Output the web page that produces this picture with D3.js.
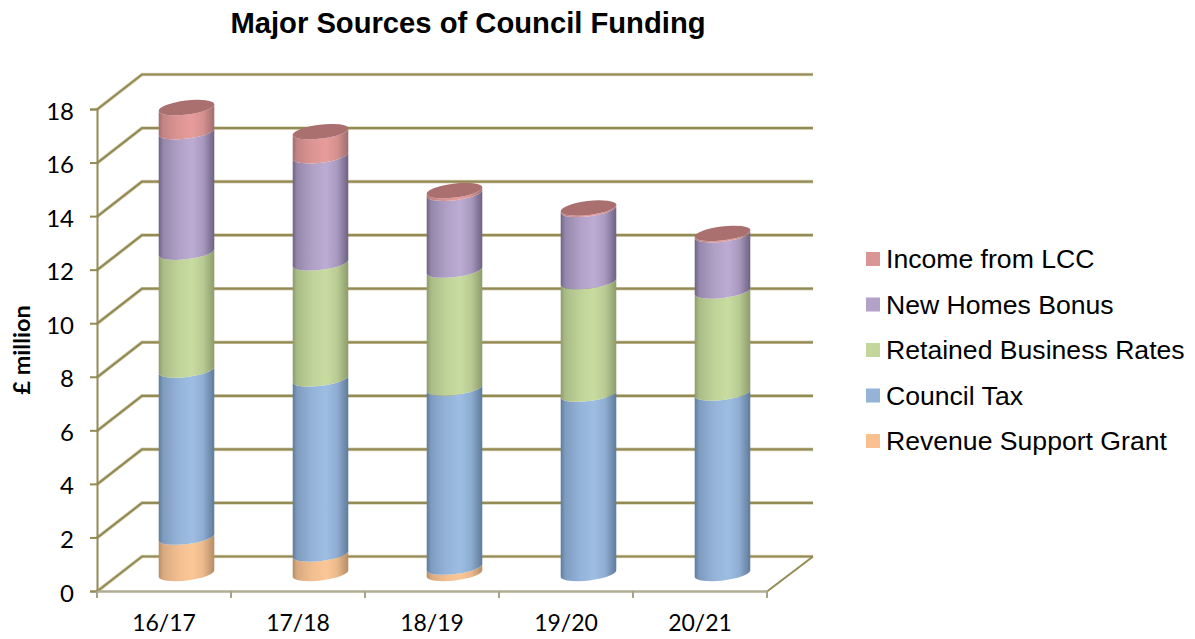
<!DOCTYPE html>
<html>
<head>
<meta charset="utf-8">
<script src="https://cdn.jsdelivr.net/npm/d3@7/dist/d3.min.js"></script>
<style>
html,body{margin:0;padding:0;background:#fff;}
svg{display:block;}
.sans{font-family:"Liberation Sans",Arial,sans-serif;}
.tick text{font-family:Lato,sans-serif;fill:#000;}
</style>
</head>
<body>
<svg id="chart" width="1195" height="639"></svg>
<script>
const years = ["16/17","17/18","18/19","19/20","20/21"];
const revenueSupportGrant = [1.36,0.73,0.24,0,0];
const councilTax = [6.24,6.54,6.69,6.7,6.74];
const retainedBusinessRates = [4.4,4.33,4.4,4.2,3.81];
const newHomesBonus = [4.5,4.0,2.87,2.7,2.1];
const incomeFromLCC = [0.9,0.9,0.1,0.05,0.05];
const yTicks = [0,2,4,6,8,10,12,14,16,18];

const seriesNames = ["Revenue Support Grant","Council Tax","Retained Business Rates","New Homes Bonus","Income from LCC"];
const seriesValues = [revenueSupportGrant,councilTax,retainedBusinessRates,newHomesBonus,incomeFromLCC];
const fills = [
  {edge:"#b58d66",mid:"#fcc797",swatch:"#fac090"},
  {edge:"#5f7b9b",mid:"#9dbde3",swatch:"#95b3d7"},
  {edge:"#8c9c6c",mid:"#c8dba0",swatch:"#c3d69b"},
  {edge:"#6e6284",mid:"#bcabd2",swatch:"#b3a2c7"},
  {edge:"#a06e6e",mid:"#e69c9a",swatch:"#d99694"}
];
const gridColor = "#948a54";

// Oblique projection of the 3-D plot box: the back wall sits up and to the right
const depthX = 45, depthY = 35;
const plotLeft = 97, plotRight = 767, plotBottom = 591, plotTop = 109;
const x = d3.scaleBand().domain(years).range([plotLeft,plotRight]);
const y = d3.scaleLinear().domain([0,18]).range([plotBottom,plotTop]);

const svg = d3.select("#chart");
const defs = svg.append("defs");
fills.forEach((f,i)=>{
  const g = defs.append("linearGradient").attr("id","cyl"+i).attr("x1",0).attr("x2",1).attr("y1",0).attr("y2",0);
  [[0,f.edge],[0.08,d3.interpolateRgb(f.edge,f.mid)(0.5)],[0.35,d3.interpolateRgb(f.edge,f.mid)(0.85)],
   [0.6,f.mid],[0.8,d3.interpolateRgb(f.edge,f.mid)(0.75)],[1,f.edge]]
    .forEach(([o,c])=>g.append("stop").attr("offset",o).attr("stop-color",c));
});

// Back wall and side wall gridlines, each with a pale halo beneath it
const gridPath = v => `M${plotLeft},${y(v)}L${plotLeft+depthX},${y(v)-depthY}L${plotRight+depthX+1},${y(v)-depthY}`;
const grid = svg.append("g").attr("fill","none").attr("transform","translate(0,0.5)");
grid.selectAll("path.halo").data(yTicks).join("path").attr("class","halo")
  .attr("d",gridPath).attr("stroke","#d9d5bb").attr("stroke-width",3.6);
grid.selectAll("path.line").data(yTicks).join("path").attr("class","line")
  .attr("d",gridPath).attr("stroke",gridColor).attr("stroke-width",2.2);
grid.append("path")
  .attr("d",`M${plotRight},${plotBottom}L${plotRight+depthX+1},${plotBottom-depthY}`)
  .attr("stroke",gridColor).attr("stroke-width",2);

// Value axis
const yAxis = d3.axisLeft(y).tickValues(yTicks).tickSize(7).tickPadding(16).tickFormat(d3.format("d"));
const yG = svg.append("g").attr("transform",`translate(${plotLeft},0)`).call(yAxis);
yG.selectAll("path,line").attr("stroke",gridColor).attr("stroke-width",2);
yG.selectAll(".tick text").attr("font-size",24).attr("dy","0.42em");

// Category axis
const xAxis = d3.axisBottom(x).tickSize(0).tickPadding(24);
const xG = svg.append("g").attr("transform",`translate(0,${plotBottom})`).call(xAxis);
xG.select("path").attr("stroke","#b0ad94").attr("stroke-width",2.4);
xG.selectAll(".tick text").attr("font-size",23);
svg.append("g").selectAll("line").data(d3.range(years.length+1)).join("line")
  .attr("x1",i=>plotLeft+i*x.bandwidth()).attr("x2",i=>plotLeft+i*x.bandwidth())
  .attr("y1",plotBottom).attr("y2",plotBottom+7)
  .attr("stroke","#a6a38a").attr("stroke-width",2);

// Cylinders: tilted ellipses joined by straight sides
const radius = 28, ryEllipse = 7, tilt = -7;
const tiltRad = tilt*Math.PI/180;
const dx = radius*Math.cos(tiltRad), dy = radius*Math.sin(tiltRad);
const segment = (cx,c0,c1) =>
  `M${cx-dx},${c1-dy}L${cx-dx},${c0-dy}`+
  `A${radius},${ryEllipse} ${tilt} 0 0 ${cx+dx},${c0+dy}`+
  `L${cx+dx},${c1+dy}`+
  `A${radius},${ryEllipse} ${tilt} 0 1 ${cx-dx},${c1-dy}Z`;

const bars = svg.append("g");
years.forEach((yr,i)=>{
  const cx = x(yr)+x.bandwidth()/2+depthX/2;
  const base = v => y(v)-depthY/2;
  let total = 0;
  seriesValues.forEach((vals,s)=>{
    const v = vals[i];
    if(v<=0) return;
    bars.append("path")
      .attr("d",segment(cx,base(total),base(total+v)))
      .attr("fill",`url(#cyl${s})`);
    total += v;
  });
  bars.append("ellipse")
    .attr("cx",cx).attr("cy",base(total))
    .attr("rx",radius).attr("ry",ryEllipse)
    .attr("transform",`rotate(${tilt} ${cx} ${base(total)})`)
    .attr("fill","#a9706f");
});

// Titles
svg.append("text").attr("class","sans").attr("x",468).attr("y",33)
  .attr("text-anchor","middle").attr("font-size",29.2).attr("font-weight","bold").text("Major Sources of Council Funding");
svg.append("text").attr("transform","translate(30,350) rotate(-90)")
  .attr("font-family","Lato,sans-serif").attr("text-anchor","middle").attr("font-size",23.5).attr("font-weight","bold").text("£ million");

// Legend, topmost entry being the last series
const legendY = d3.scalePoint().domain(d3.range(seriesNames.length)).range([441,259]);
const legend = svg.append("g").selectAll("g").data(seriesNames).join("g")
  .attr("transform",(d,i)=>`translate(866,${legendY(i)})`);
legend.append("rect").attr("x",0).attr("y",-7).attr("width",14).attr("height",14)
  .attr("fill",(d,i)=>fills[i].swatch);
legend.append("text").attr("class","sans").attr("x",20).attr("y",9)
  .attr("font-size",26.6).attr("fill","#000").text(d=>d);
</script>
</body>
</html>
